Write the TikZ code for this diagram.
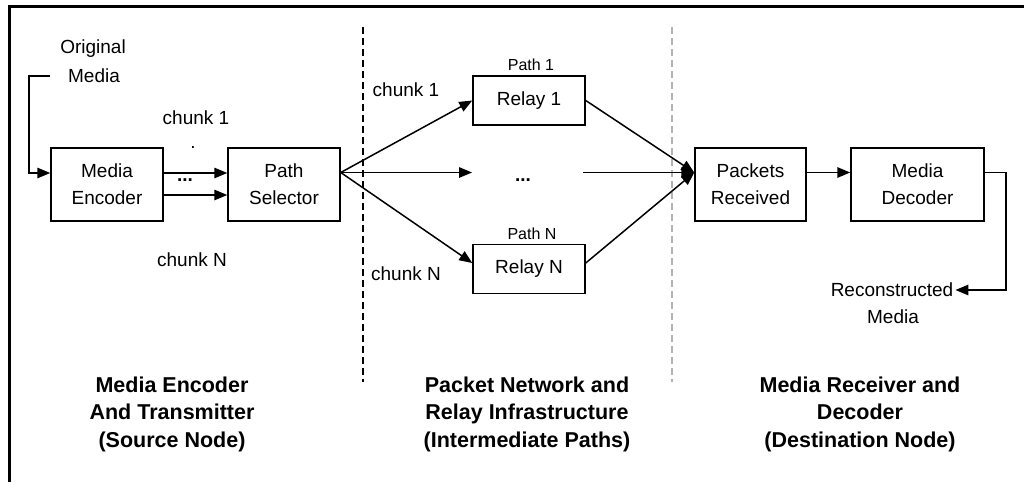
\documentclass[tikz,border=0pt]{standalone}
\usepackage{fontspec}
\setmainfont{Liberation Sans}
\usetikzlibrary{arrows.meta,calc}
\tikzset{
  box/.style={draw,line width=1.5pt,minimum width=112pt,minimum height=73pt,inner sep=0pt,align=center,font=\fontsize{19}{27}\selectfont},
  relaybox/.style={box,minimum height=49pt},
  lbl/.style={inner sep=1pt,font=\fontsize{19}{27}\selectfont,align=center},
  dotlbl/.style={inner sep=1pt,font=\fontsize{19}{27}\selectfont\bfseries},
  plbl/.style={inner sep=1pt,font=\fontsize{16}{20}\selectfont},
  zone/.style={inner sep=0pt,align=center,font=\fontsize{21.5}{27.5}\selectfont\bfseries},
  arr/.style={line width=1.5pt,-{Triangle[length=13pt,width=10.5pt]}},
  sep/.style={line width=1.3pt,dash pattern=on 7pt off 4pt}
}
\begin{document}
\begin{tikzpicture}[x=1pt,y=-1pt]
\useasboundingbox[fill=white] (0,0) rectangle (1024,482);
% frame
\draw[line width=3pt] (8,6.5) -- (1024,6.5);
\draw[line width=3pt] (9.5,5) -- (9.5,482);
% separators
\draw[sep] (363,27) -- (363,382);
\draw[sep,gray!60] (672,27) -- (672,382);
% nodes
\node[lbl] (orig1) at (93,49) {Original};
\node[lbl] (orig2) at (94,76) {Media};
\node[box] (me) at (107,184.5) {Media\\Encoder};
\node[box] (ps) at (284,184.5) {Path\\Selector};
\node[relaybox] (r1) at (529,100.5) {Relay 1};
\node[relaybox] (rN) at (529,269) {Relay N};
\node[box,minimum width=111pt] (pr) at (750.5,184.5) {Packets\\Received};
\node[box,minimum width=133pt] (md) at (917.5,184.5) {Media\\Decoder};
\node[plbl] (p1) at (531,65) {Path 1};
\node[plbl] (pN) at (532,234) {Path N};
\node[lbl] (c1a) at (196,118) {chunk 1};
\node[lbl] (cNa) at (192,260) {chunk N};
\node[lbl] (c1b) at (406,90) {chunk 1};
\node[lbl] (cNb) at (406,274) {chunk N};
\node[dotlbl,anchor=base] (dots1) at (185,181) {...};
\node[lbl,anchor=base] (dot1) at (193,148) {.};
\node[dotlbl,anchor=base] (dots2) at (523,181) {...};
\node[lbl,inner sep=2pt] (rec1) at (892,290) {Reconstructed};
\node[lbl] (rec2) at (893,317) {Media};
\node[zone] (z1) at (172,414) {Media Encoder\\And Transmitter\\(Source Node)};
\node[zone] (z2) at (527,414) {Packet Network and\\Relay Infrastructure\\(Intermediate Paths)};
\node[zone] (z3) at (860,414) {Media Receiver and\\Decoder\\(Destination Node)};
% coordinates
\coordinate (in) at (50,76);
\coordinate (fan) at ([yshift=12pt]ps.east);
\coordinate (m1) at (472,172.5);
\coordinate (m2) at (583,172.5);
% connectors
\draw[arr] (in) -- ++(-21,0) |- ([yshift=11.5pt]me.west);
\draw[arr] ([yshift=11.5pt]me.east) -- ([yshift=11.5pt]ps.west);
\draw[arr] ([yshift=-10.5pt]me.east) -- ([yshift=-10.5pt]ps.west);
\draw[arr] (fan) -- (r1.west);
\draw[arr] (fan) -- ([yshift=6pt]rN.west);
\draw[arr] (fan) -- (m1);
\draw[arr] (m2) -- ([yshift=12pt]pr.west);
\draw[arr] (r1.east) -- ([yshift=12pt]pr.west);
\draw[arr] ([yshift=6pt]rN.east) -- ([yshift=12pt]pr.west);
\draw[arr] ([yshift=12pt]pr.east) -- ([yshift=12pt]md.west);
\draw[arr] ([yshift=12pt]md.east) -- ++(21,0) |- (rec1.east);
\end{tikzpicture}
\end{document}
